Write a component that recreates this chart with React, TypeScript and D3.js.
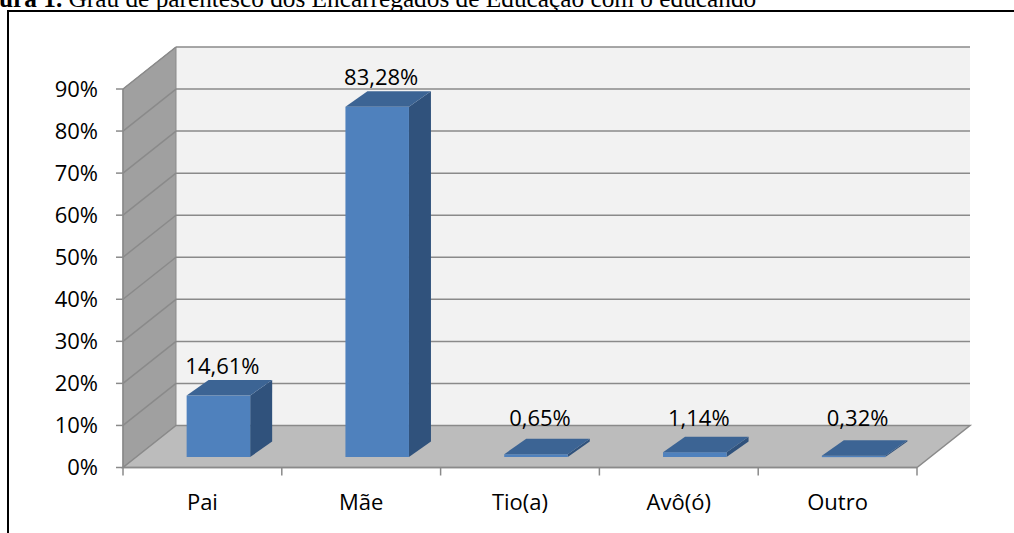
import React from "react";
import * as d3 from "d3";

const categories = ["Pai", "Mãe", "Tio(a)", "Avô(ó)", "Outro"];
const values = [14.61, 83.28, 0.65, 1.14, 0.32];
const yTicks = [0, 10, 20, 30, 40, 50, 60, 70, 80, 90];

const W = 1014;
const H = 533;
const DX = 53; // full depth of the 3D box
const DY = -42;
const BAR_OFF_X = 16; // bar front offset inside the depth
const BAR_OFF_Y = -10.5;
const BAR_DX = 22; // bar depth
const BAR_DY = -15.5;

const font = "'Open Sans', 'Noto Sans', sans-serif";

const fmt = (v: number) => d3.format(".2f")(v).replace(".", ",") + "%";

const pts = (p: number[][]) => p.map((d) => d.join(",")).join(" ");

const App = () => {
  const x = d3.scaleBand<string>().domain(categories).range([123, 917]);
  const y = d3.scaleLinear().domain([0, 90]).range([467.5, 89]);
  const bw = x.bandwidth();
  const barW = bw * 0.4;
  const x0 = 123;
  const x1 = 917;
  const y0 = y(0);
  const yTop = y(90);
  const grid = "#8a8a8a";

  return (
    <svg
      width={W}
      height={H}
      style={{ position: "absolute", left: 0, top: 0, background: "#fff" }}
    >
      <text
        x={-1}
        y={7}
        fontFamily="'Liberation Serif', 'Times New Roman', serif"
        fontSize={25.3}
        fill="#000"
      >
        <tspan fontWeight="bold">ura 1.</tspan>
        <tspan> Grau de parentesco dos Encarregados de Educação com o educando</tspan>
      </text>
      <rect x={8} y={11} width={1100} height={600} fill="none" stroke="#000" strokeWidth={2} />

      {/* back wall */}
      <rect x={x0 + DX} y={yTop + DY} width={x1 - x0} height={y0 - yTop} fill="#f2f2f2" />
      {/* left side wall */}
      <polygon
        points={pts([
          [x0, y0],
          [x0, yTop],
          [x0 + DX, yTop + DY],
          [x0 + DX, y0 + DY],
        ])}
        fill="#a0a0a0"
        stroke={grid}
        strokeWidth={1}
      />
      {/* floor */}
      <polygon
        points={pts([
          [x0, y0],
          [x1, y0],
          [x1 + DX, y0 + DY],
          [x0 + DX, y0 + DY],
        ])}
        fill="#bcbcbc"
        stroke={grid}
        strokeWidth={1.5}
      />
      {/* gridlines */}
      {yTicks
        .filter((t) => t > 0)
        .map((t) => (
          <g key={t}>
            <line
              x1={x0 + DX}
              x2={x1 + DX}
              y1={y(t) + DY}
              y2={y(t) + DY}
              stroke={grid}
              strokeWidth={1.5}
            />
            <line x1={x0} x2={x0 + DX} y1={y(t)} y2={y(t) + DY} stroke={grid} strokeWidth={1.5} />
          </g>
        ))}

      {/* y axis */}
      <line x1={x0} x2={x0} y1={y0} y2={yTop} stroke={grid} strokeWidth={1.5} />
      {yTicks.map((t) => (
        <g key={t}>
          <line x1={x0 - 7} x2={x0} y1={y(t)} y2={y(t)} stroke={grid} strokeWidth={1.5} />
          <text
            x={98}
            y={y(t)}
            dy="0.35em"
            textAnchor="end"
            fontFamily={font}
            fontSize={22}
            fill="#000"
          >
            {t}%
          </text>
        </g>
      ))}

      {/* x axis */}
      <line x1={x0} x2={x1} y1={y0} y2={y0} stroke={grid} strokeWidth={1.5} />
      {[...categories.map((c) => x(c) as number), x1].map((px, i) => (
        <line key={i} x1={px} x2={px} y1={y0} y2={y0 + 8} stroke={grid} strokeWidth={1.5} />
      ))}
      {categories.map((c) => (
        <text
          key={c}
          x={(x(c) as number) + bw / 2}
          y={510}
          textAnchor="middle"
          fontFamily={font}
          fontSize={22}
          fill="#000"
        >
          {c}
        </text>
      ))}

      {/* bars */}
      {categories.map((c, i) => {
        const xl = (x(c) as number) + (bw - barW) / 2 + BAR_OFF_X;
        const xr = xl + barW;
        const yb = y(0) + BAR_OFF_Y;
        const yt = y(values[i]) + BAR_OFF_Y;
        const ly = Math.min(yt + BAR_DY - 6, yb + BAR_DY - 16);
        return (
          <g key={c}>
            <polygon
              points={pts([
                [xr, yt],
                [xr + BAR_DX, yt + BAR_DY],
                [xr + BAR_DX, yb + BAR_DY],
                [xr, yb],
              ])}
              fill="#30527c"
            />
            <rect x={xl} y={yt} width={barW} height={Math.max(yb - yt, 1.5)} fill="#4f81bd" />
            <polygon
              points={pts([
                [xl, yt],
                [xr, yt],
                [xr + BAR_DX, yt + BAR_DY],
                [xl + BAR_DX, yt + BAR_DY],
              ])}
              fill="#3c6494"
            />
            <text
              x={xl + barW / 2 + 4}
              y={ly}
              textAnchor="middle"
              fontFamily={font}
              fontSize={22}
              fill="#000"
            >
              {fmt(values[i])}
            </text>
          </g>
        );
      })}
    </svg>
  );
};

export default App;
